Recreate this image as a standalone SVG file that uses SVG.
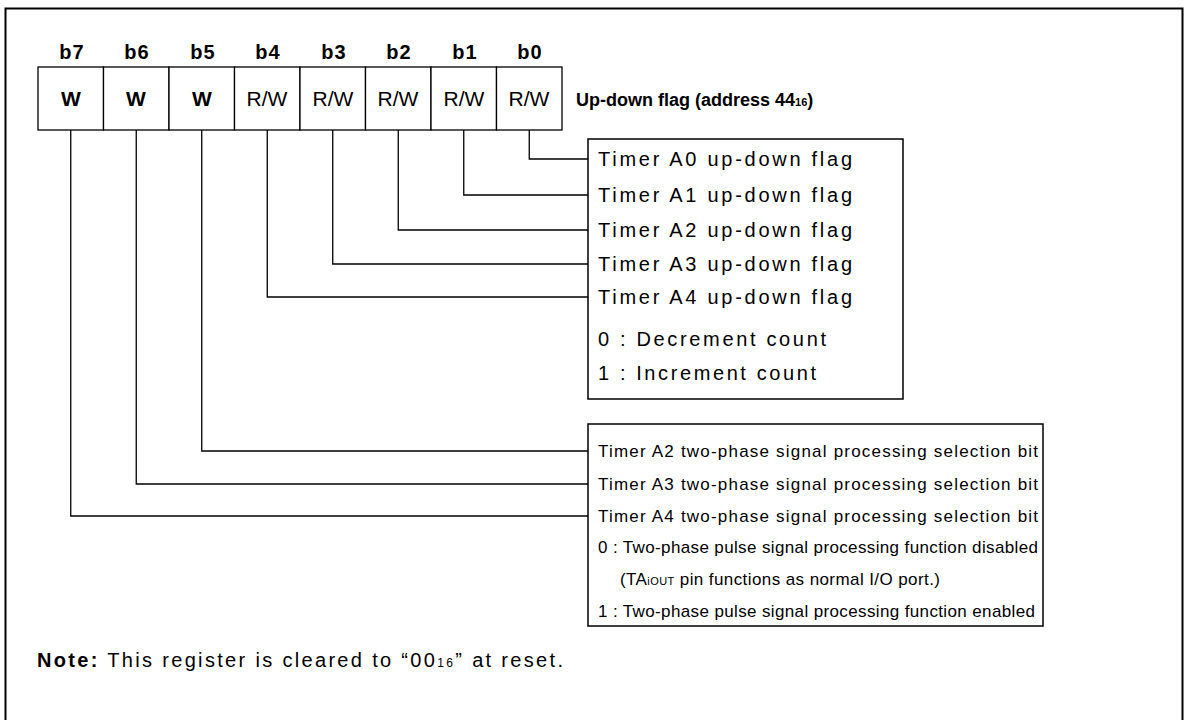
<svg xmlns="http://www.w3.org/2000/svg" width="1187" height="720" viewBox="0 0 1187 720">
<style>
text{font-family:"Liberation Sans",Arial,Helvetica,sans-serif;fill:#000}
.bl{font-size:20px;font-weight:bold;text-anchor:middle;letter-spacing:1px}
.cw{font-size:21px;font-weight:bold;text-anchor:middle}
.crw{font-size:21px;text-anchor:middle}
.title{font-size:18px;font-weight:bold}
.t1{font-size:20px}
.t2{font-size:17px}
.note{font-size:20px}
.cell{fill:#fff;stroke:#000;stroke-width:1.3}
.box{fill:#fff;stroke:#000;stroke-width:1.5}
.conn{fill:none;stroke:#000;stroke-width:1.3}
</style>
<rect x="5.5" y="8.5" width="1177" height="730" fill="#fff" stroke="#000" stroke-width="2"/>
<g id="register">
<g id="b7"><rect class="cell" x="38" y="67" width="65.5" height="63"/><text class="bl" x="72" y="59">b7</text><text class="cw" x="71" y="106">W</text></g>
<g id="b6"><rect class="cell" x="103.5" y="67" width="65.5" height="63"/><text class="bl" x="137" y="59">b6</text><text class="cw" x="136" y="106">W</text></g>
<g id="b5"><rect class="cell" x="169" y="67" width="65.5" height="63"/><text class="bl" x="203" y="59">b5</text><text class="cw" x="202" y="106">W</text></g>
<g id="b4"><rect class="cell" x="234.5" y="67" width="65.5" height="63"/><text class="bl" x="268" y="59">b4</text><text class="crw" x="267" y="106">R/W</text></g>
<g id="b3"><rect class="cell" x="300" y="67" width="65.5" height="63"/><text class="bl" x="334" y="59">b3</text><text class="crw" x="333" y="106">R/W</text></g>
<g id="b2"><rect class="cell" x="365.5" y="67" width="65.5" height="63"/><text class="bl" x="399" y="59">b2</text><text class="crw" x="398" y="106">R/W</text></g>
<g id="b1"><rect class="cell" x="431" y="67" width="65.5" height="63"/><text class="bl" x="465" y="59">b1</text><text class="crw" x="464" y="106">R/W</text></g>
<g id="b0"><rect class="cell" x="496.5" y="67" width="65.5" height="63"/><text class="bl" x="530" y="59">b0</text><text class="crw" x="529" y="106">R/W</text></g>
</g>
<g id="title"><text class="title" x="576" y="106">Up-down flag (address 44<tspan font-size="11">16</tspan>)</text></g>
<g id="connectors">
<polyline class="conn" points="529.25,130 529.25,159 588,159"/>
<polyline class="conn" points="463.75,130 463.75,195 588,195"/>
<polyline class="conn" points="398.25,130 398.25,230 588,230"/>
<polyline class="conn" points="332.75,130 332.75,264 588,264"/>
<polyline class="conn" points="267.25,130 267.25,297 588,297"/>
<polyline class="conn" points="201.75,130 201.75,451 588,451"/>
<polyline class="conn" points="136.25,130 136.25,484 588,484"/>
<polyline class="conn" points="70.75,130 70.75,516 588,516"/>
</g>
<g id="updown-box">
<rect class="box" x="588" y="139" width="315" height="260"/>
<text class="t1" x="598" y="166" textLength="254">Timer A0 up-down flag</text>
<text class="t1" x="598" y="202" textLength="254">Timer A1 up-down flag</text>
<text class="t1" x="598" y="237" textLength="254">Timer A2 up-down flag</text>
<text class="t1" x="598" y="271" textLength="254">Timer A3 up-down flag</text>
<text class="t1" x="598" y="304" textLength="254">Timer A4 up-down flag</text>
<text class="t1" x="598" y="346" textLength="228">0 : Decrement count</text>
<text class="t1" x="598" y="380" textLength="218">1 : Increment count</text>
</g>
<g id="twophase-box">
<rect class="box" x="588" y="424" width="455" height="202"/>
<text class="t2" x="598" y="457" textLength="440">Timer A2 two-phase signal processing selection bit</text>
<text class="t2" x="598" y="490" textLength="440">Timer A3 two-phase signal processing selection bit</text>
<text class="t2" x="598" y="522" textLength="440">Timer A4 two-phase signal processing selection bit</text>
<text class="t2" x="598" y="553" textLength="440">0 : Two-phase pulse signal processing function disabled</text>
<text class="t2" x="620" y="585" textLength="320">(TA<tspan font-size="11">iOUT</tspan> pin functions as normal I/O port.)</text>
<text class="t2" x="598" y="617" textLength="437">1 : Two-phase pulse signal processing function enabled</text>
</g>
<g id="note"><text class="note" x="37" y="667" textLength="526"><tspan font-weight="bold">Note:</tspan> This register is cleared to “00<tspan font-size="12">16</tspan>” at reset.</text></g>
</svg>
